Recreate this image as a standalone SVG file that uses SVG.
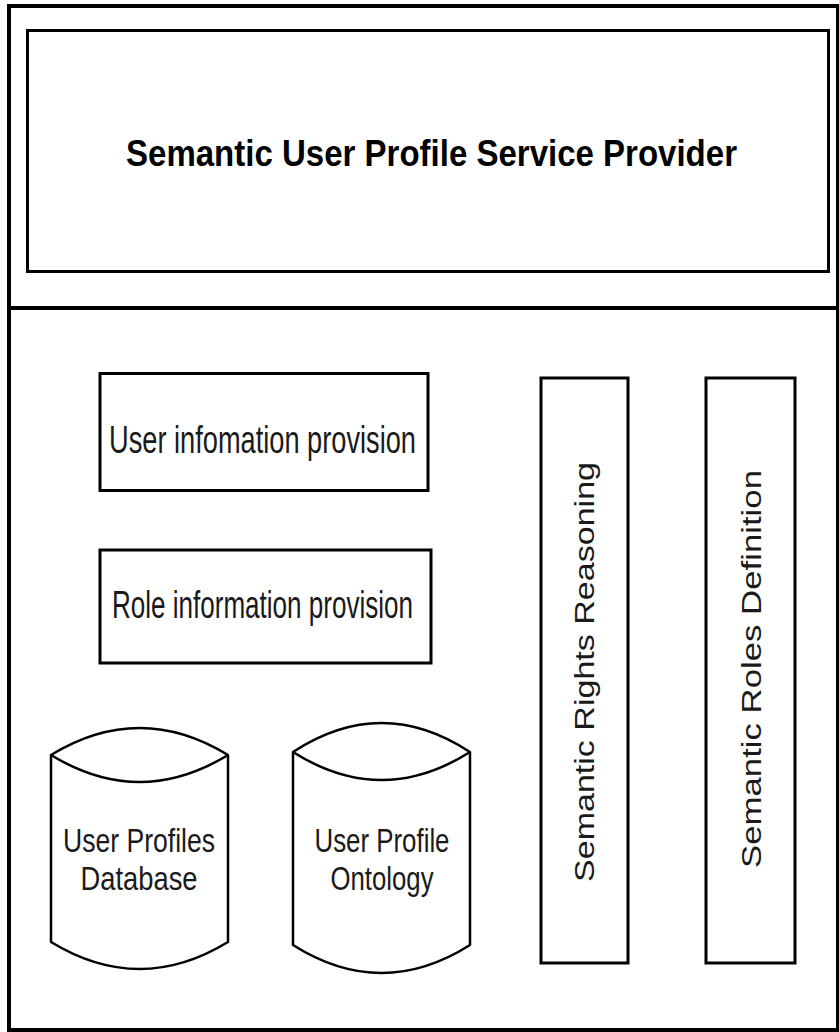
<svg xmlns="http://www.w3.org/2000/svg" width="839" height="1032" viewBox="0 0 839 1032">
  <style>
    .frame { fill: none; stroke: #000; stroke-width: 4; }
    .box { fill: #fff; stroke: #000; stroke-width: 3; }
    .cyl { fill: #fff; stroke: #000; stroke-width: 2.5; stroke-linejoin: round; }
    .title { font-family: "Liberation Sans", Arial, sans-serif; font-weight: bold; font-size: 36px; fill: #000; }
    .label { font-family: "Liberation Sans", Arial, sans-serif; font-size: 38px; fill: #1a1a1a; }
    .cyltext { font-family: "Liberation Sans", Arial, sans-serif; font-size: 34px; fill: #1a1a1a; text-anchor: middle; }
    .vtext { font-family: "Liberation Sans", Arial, sans-serif; font-size: 27px; fill: #1a1a1a; }
  </style>
  <rect width="839" height="1032" fill="#fff"/>

  <!-- outer frame and the horizontal divider -->
  <g id="frame">
    <rect class="frame" x="9" y="6" width="829" height="1024"/>
    <line class="frame" x1="9" y1="308" x2="839" y2="308"/>
  </g>

  <g id="service-provider">
    <rect class="box" x="27.5" y="30.5" width="801" height="241"/>
    <text class="title" x="126" y="166" textLength="611" lengthAdjust="spacingAndGlyphs">Semantic User Profile Service Provider</text>
  </g>

  <g id="user-info">
    <rect class="box" x="100" y="373.5" width="328" height="117"/>
    <text class="label" x="109" y="453" textLength="307" lengthAdjust="spacingAndGlyphs">User infomation provision</text>
  </g>

  <g id="role-info">
    <rect class="box" x="100" y="550" width="331" height="113"/>
    <text class="label" x="112" y="618" textLength="301" lengthAdjust="spacingAndGlyphs">Role information provision</text>
  </g>

  <g id="profiles-db">
    <path class="cyl" d="M51,755 Q139.5,701 228,755 L228,942 Q139.5,996 51,942 Z"/>
    <path class="cyl" d="M51,755 Q139.5,809 228,755" fill="none"/>
    <text class="cyltext" x="139" y="852" textLength="152" lengthAdjust="spacingAndGlyphs">User Profiles</text>
    <text class="cyltext" x="139" y="890" textLength="117" lengthAdjust="spacingAndGlyphs">Database</text>
  </g>

  <g id="profile-ontology">
    <path class="cyl" d="M293,752 Q381.5,694 470,752 L470,945 Q381.5,1001 293,945 Z"/>
    <path class="cyl" d="M293,752 Q381.5,808 470,752" fill="none"/>
    <text class="cyltext" x="382" y="852" textLength="135" lengthAdjust="spacingAndGlyphs">User Profile</text>
    <text class="cyltext" x="382" y="890" textLength="103" lengthAdjust="spacingAndGlyphs">Ontology</text>
  </g>

  <g id="rights-reasoning">
    <rect class="box" x="541" y="378" width="87" height="585"/>
    <text class="vtext" transform="translate(594,882) rotate(-90)" x="0" y="0" textLength="420" lengthAdjust="spacingAndGlyphs">Semantic Rights Reasoning</text>
  </g>

  <g id="roles-definition">
    <rect class="box" x="706" y="378" width="89" height="585"/>
    <text class="vtext" transform="translate(761,868) rotate(-90)" x="0" y="0" textLength="398" lengthAdjust="spacingAndGlyphs">Semantic Roles Definition</text>
  </g>

  <g id="connectors"></g>
</svg>
